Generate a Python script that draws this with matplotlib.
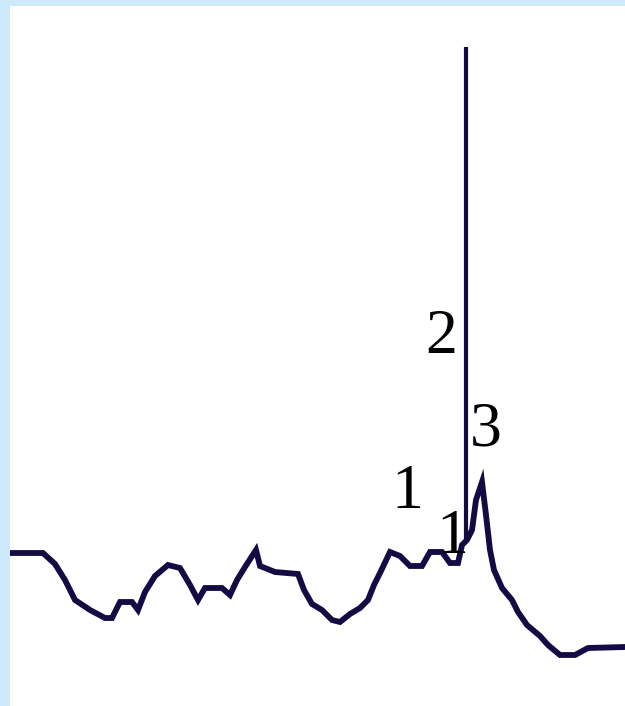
import matplotlib.pyplot as plt
import numpy as np

# trace samples: horizontal position and signal level
positions = [12, 43, 55, 65, 75, 90, 105, 112, 120, 132, 138, 145, 155, 168, 180, 190,
             198, 205, 222, 230, 237, 245, 256, 260, 275, 298, 304, 312, 322, 332, 340,
             350, 360, 368, 374, 380, 390, 400, 410, 422, 430, 442, 450, 458, 462, 467,
             472, 476, 482, 486, 490, 494, 502, 512, 518, 527, 540, 548, 560, 575, 588, 625]
levels = [153, 153, 142, 126, 106, 96, 88, 88, 104, 104, 96, 114, 130, 141, 138, 121,
          106, 118, 118, 111, 126, 139, 156, 140, 134, 132, 116, 102, 96, 86, 84,
          92, 98, 106, 121, 133, 154, 150, 140, 140, 154, 154, 143, 143, 161, 166,
          176, 206, 224, 191, 156, 136, 118, 106, 94, 81, 70, 61, 51, 51, 58, 59]

# the single tall line
spike_pos = 466
spike_base = 166
spike_top = 659

# peak labels
label_text = ['1', '1', '2', '3']
label_x = [407, 452, 441, 486]
label_y = [213, 168, 368, 276]

fig = plt.figure(figsize=(6.25, 7.06), dpi=100, facecolor='#cdeafd')
ax = fig.add_axes([10 / 625, 0, 615 / 625, 700 / 706])
ax.set_facecolor('white')

ax.plot(positions, levels, color='#140b45', lw=4.2, solid_joinstyle='miter')
ax.vlines(spike_pos, spike_base, spike_top, color='#140b45', lw=3)

for t, x, y in zip(label_text, label_x, label_y):
    ax.text(x, y, t, fontsize=46, ha='center', va='center',
            family=['Liberation Serif', 'DejaVu Serif'], color='black')

ax.set_xlim(10, 625)
ax.set_ylim(0, 700)
ax.set_xticks([])
ax.set_yticks([])
for s in ax.spines.values():
    s.set_visible(False)

fig.savefig('out.png', dpi=100, facecolor=fig.get_facecolor())
